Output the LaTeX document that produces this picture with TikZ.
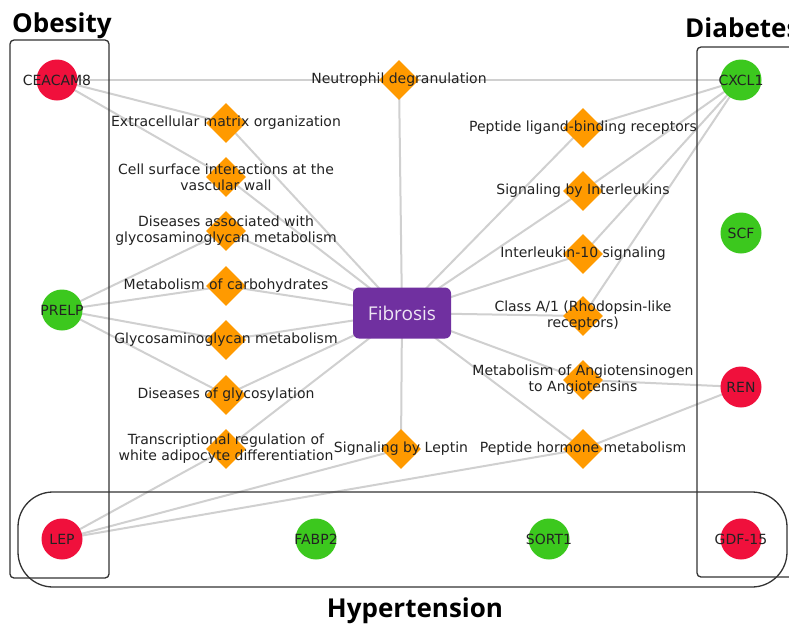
\documentclass[tikz,border=0pt]{standalone}
\usepackage{fontspec}
\setmainfont{DejaVu Sans}
\newfontfamily\titlefont{Open Sans}
\usetikzlibrary{shapes.geometric}
\pgfdeclarelayer{bg}
\pgfsetlayers{bg,main}
\definecolor{nred}{HTML}{F0103C}
\definecolor{ngreen}{HTML}{3CC81E}
\definecolor{norange}{HTML}{FF9A00}
\definecolor{npurple}{HTML}{7030A0}
\definecolor{nedge}{HTML}{D0D0D0}
\definecolor{ntext}{HTML}{222222}
\definecolor{nbox}{HTML}{333333}
\tikzset{
  gene/.style={circle, minimum size=41pt, inner sep=0pt, draw=none},
  redgene/.style={gene, fill=nred},
  greengene/.style={gene, fill=ngreen},
  pathway/.style={diamond, minimum size=40pt, inner sep=0pt, fill=norange, draw=none},
  lbl/.style={font=\fontsize{14}{16}\selectfont, text=ntext, align=center, inner sep=0pt},
  link/.style={draw=nedge, line width=2pt},
  group/.style={draw=nbox, line width=1.3pt},
  grouptitle/.style={font=\titlefont\bfseries\fontsize{26}{30}\selectfont, text=black, inner sep=0pt},
  hub/.style={rectangle, rounded corners=6pt, minimum width=98pt, minimum height=51pt, fill=npurple, text=white!88!npurple, font=\titlefont\fontsize{19}{22}\selectfont}
}
\begin{document}
\begin{tikzpicture}[x=1pt,y=-1pt]
\clip (0,0) rectangle (789,624);

% group boxes
\draw[group, rounded corners=4pt] (10,40) rectangle (109,578);
\draw[group, rounded corners=4pt] (697,47) rectangle (810,577);
\draw[group, rounded corners=35pt] (18,492) rectangle (787,587);

\node[grouptitle, anchor=base west] (tob) at (12,32) {Obesity};
\node[grouptitle, anchor=base west] (tdia) at (685,37.5) {Diabetes};
\node[grouptitle, anchor=base] (thyp) at (415,617) {Hypertension};

% hub
\node[hub] (fib) at (402,313) {Fibrosis};

% pathways (diamonds)
\node[pathway] (neut) at (399,80) {};
\node[pathway] (ecm) at (226,123) {};
\node[pathway] (cell) at (226,177) {};
\node[pathway] (dgag) at (226,231) {};
\node[pathway] (carb) at (226,286) {};
\node[pathway] (gag) at (226,340) {};
\node[pathway] (glyc) at (226,395) {};
\node[pathway] (trans) at (226,449) {};
\node[pathway] (lept) at (401,449) {};
\node[pathway] (plig) at (583,128) {};
\node[pathway] (sil) at (583,191) {};
\node[pathway] (il10) at (583,254) {};
\node[pathway] (clsa) at (583,316) {};
\node[pathway] (angio) at (583,380) {};
\node[pathway] (phorm) at (583,449) {};

% genes (circles)
\node[redgene] (ceacam) at (57,80) {};
\node[greengene] (prelp) at (62,310) {};
\node[redgene] (lep) at (62,539) {};
\node[greengene] (fabp) at (316,539) {};
\node[greengene] (sort) at (549,539) {};
\node[redgene] (gdf) at (741,539) {};
\node[greengene] (cxcl) at (741,80) {};
\node[greengene] (scf) at (741,233) {};
\node[redgene] (ren) at (741,387) {};

% labels
\node[lbl] (neut-t) at (neut) {Neutrophil degranulation};
\node[lbl] (ecm-t) at (ecm) {Extracellular matrix organization};
\node[lbl] (cell-t) at (cell) {Cell surface interactions at the\\vascular wall};
\node[lbl] (dgag-t) at (dgag) {Diseases associated with\\glycosaminoglycan metabolism};
\node[lbl] (carb-t) at (carb) {Metabolism of carbohydrates};
\node[lbl] (gag-t) at (gag) {Glycosaminoglycan metabolism};
\node[lbl] (glyc-t) at (glyc) {Diseases of glycosylation};
\node[lbl] (trans-t) at (trans) {Transcriptional regulation of\\white adipocyte differentiation};
\node[lbl] (lept-t) at (lept) {Signaling by Leptin};
\node[lbl] (plig-t) at (plig) {Peptide ligand-binding receptors};
\node[lbl] (sil-t) at (sil) {Signaling by Interleukins};
\node[lbl] (il10-t) at (il10) {Interleukin-10 signaling};
\node[lbl] (clsa-t) at (clsa) {Class A/1 (Rhodopsin-like\\receptors)};
\node[lbl] (angio-t) at (angio) {Metabolism of Angiotensinogen\\to Angiotensins};
\node[lbl] (phorm-t) at (phorm) {Peptide hormone metabolism};

\node[lbl] (ceacam-t) at (ceacam) {CEACAM8};
\node[lbl] (prelp-t) at (prelp) {PRELP};
\node[lbl] (lep-t) at (lep) {LEP};
\node[lbl] (fabp-t) at (fabp) {FABP2};
\node[lbl] (sort-t) at (sort) {SORT1};
\node[lbl] (gdf-t) at (gdf) {GDF-15};
\node[lbl] (cxcl-t) at (cxcl) {CXCL1};
\node[lbl] (scf-t) at (scf) {SCF};
\node[lbl] (ren-t) at (ren) {REN};

% connectors
\begin{pgfonlayer}{bg}
\fill[white] (0,0) rectangle (789,624);
\foreach \p in {neut,ecm,cell,dgag,carb,gag,glyc,trans,lept,plig,sil,il10,clsa,angio,phorm}
  \draw[link] (fib.center) -- (\p.center);
\foreach \p in {neut,ecm,cell}
  \draw[link] (ceacam.center) -- (\p.center);
\foreach \p in {neut,plig,sil,il10,clsa}
  \draw[link] (cxcl.center) -- (\p.center);
\foreach \p in {dgag,carb,gag,glyc}
  \draw[link] (prelp.center) -- (\p.center);
\foreach \p in {trans,lept,phorm}
  \draw[link] (lep.center) -- (\p.center);
\foreach \p in {angio,phorm}
  \draw[link] (ren.center) -- (\p.center);
\end{pgfonlayer}
\end{tikzpicture}
\end{document}
